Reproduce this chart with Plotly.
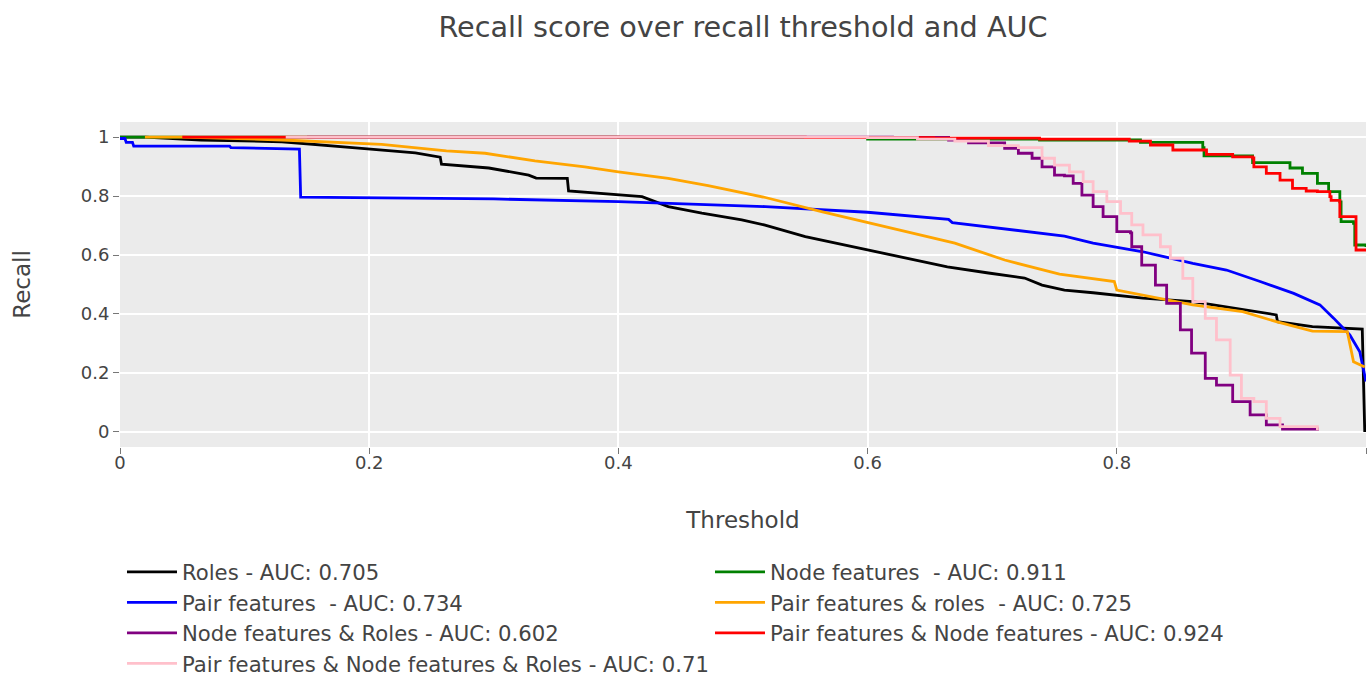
import plotly.graph_objects as go

# ---------------- data ----------------
roles_x = [0, 0.02, 0.065, 0.13, 0.189, 0.237, 0.257, 0.258, 0.296, 0.328, 0.334, 0.359, 0.360,
           0.419, 0.440, 0.467, 0.499, 0.517, 0.550, 0.600, 0.630, 0.664, 0.697, 0.726, 0.740,
           0.758, 0.781, 0.821, 0.861, 0.901, 0.928, 0.929, 0.957, 0.997, 0.999]
roles_y = [1.0, 1.0, 0.99, 0.984, 0.963, 0.946, 0.932, 0.908, 0.895, 0.871, 0.861, 0.860, 0.817,
           0.798, 0.764, 0.742, 0.719, 0.702, 0.662, 0.617, 0.590, 0.560, 0.539, 0.522, 0.498,
           0.481, 0.472, 0.454, 0.442, 0.414, 0.397, 0.374, 0.357, 0.349, 0.0]

node_x = [0, 0.40, 0.60, 0.738, 0.819, 0.869, 0.870, 0.909, 0.939, 0.949, 0.961, 0.970, 0.979,
          0.980, 0.990, 0.991, 1.0]
node_y = [1.0, 0.998, 0.993, 0.99, 0.982, 0.964, 0.936, 0.913, 0.895, 0.877, 0.843, 0.815, 0.78,
          0.713, 0.707, 0.634, 0.627]

pair_x = [0, 0.004, 0.005, 0.01, 0.011, 0.088, 0.089, 0.144, 0.145, 0.30, 0.40, 0.518, 0.60,
          0.665, 0.668, 0.758, 0.781, 0.821, 0.861, 0.888, 0.915, 0.942, 0.963, 0.974, 0.987,
          0.995, 1.0]
pair_y = [0.995, 0.995, 0.982, 0.982, 0.969, 0.969, 0.964, 0.959, 0.796, 0.79, 0.781, 0.764,
          0.745, 0.721, 0.710, 0.664, 0.640, 0.611, 0.572, 0.549, 0.510, 0.470, 0.431, 0.386,
          0.329, 0.272, 0.171]

pair_roles_x = [0.02, 0.05, 0.13, 0.21, 0.262, 0.293, 0.333, 0.373, 0.40, 0.44, 0.472, 0.494,
                0.518, 0.563, 0.60, 0.644, 0.670, 0.710, 0.754, 0.798, 0.80, 0.861, 0.901,
                0.928, 0.957, 0.985, 0.990, 0.999]
pair_roles_y = [1.0, 1.0, 0.99, 0.975, 0.953, 0.945, 0.919, 0.899, 0.882, 0.860, 0.835, 0.815,
                0.795, 0.747, 0.71, 0.668, 0.640, 0.583, 0.535, 0.510, 0.481, 0.431, 0.408,
                0.374, 0.342, 0.340, 0.238, 0.22]

node_roles_x = [0.15, 0.62, 0.665, 0.681, 0.710, 0.721, 0.732, 0.740, 0.750, 0.758, 0.765, 0.772,
                0.781, 0.789, 0.800, 0.811, 0.812, 0.820, 0.831, 0.840, 0.850, 0.851, 0.860,
                0.871, 0.880, 0.893, 0.907, 0.920, 0.933, 0.961]
node_roles_y = [1.0, 0.999, 0.99, 0.98, 0.962, 0.945, 0.928, 0.899, 0.871, 0.868, 0.843, 0.803,
                0.764, 0.730, 0.679, 0.675, 0.628, 0.566, 0.498, 0.436, 0.436, 0.346, 0.267,
                0.182, 0.159, 0.103, 0.058, 0.024, 0.010, 0.004]

pair_node_x = [0.05, 0.55, 0.653, 0.738, 0.81, 0.827, 0.845, 0.872, 0.893, 0.909, 0.910, 0.920,
               0.931, 0.941, 0.952, 0.961, 0.971, 0.972, 0.978, 0.979, 0.991, 0.992, 1.0]
pair_node_y = [1.0, 0.998, 0.996, 0.993, 0.986, 0.973, 0.956, 0.941, 0.933, 0.929, 0.899, 0.877,
               0.854, 0.826, 0.817, 0.815, 0.798, 0.785, 0.785, 0.730, 0.730, 0.617, 0.617]

all_x = [0.133, 0.60, 0.64, 0.670, 0.697, 0.721, 0.740, 0.750, 0.762, 0.773, 0.781, 0.792, 0.803,
         0.812, 0.821, 0.835, 0.843, 0.853, 0.861, 0.871, 0.880, 0.891, 0.900, 0.910, 0.920,
         0.931, 0.961]
all_y = [1.0, 0.998, 0.993, 0.986, 0.971, 0.964, 0.928, 0.905, 0.882, 0.849, 0.815, 0.781, 0.741,
         0.702, 0.668, 0.628, 0.589, 0.521, 0.442, 0.385, 0.312, 0.193, 0.114, 0.103, 0.046,
         0.018, 0.005]

series = [
    ("Roles - AUC: 0.705", roles_x, roles_y, "black", "linear"),
    ("Node features  - AUC: 0.911", node_x, node_y, "green", "hv"),
    ("Pair features  - AUC: 0.734", pair_x, pair_y, "blue", "linear"),
    ("Pair features & roles  - AUC: 0.725", pair_roles_x, pair_roles_y, "orange", "linear"),
    ("Node features & Roles - AUC: 0.602", node_roles_x, node_roles_y, "purple", "hv"),
    ("Pair features & Node features - AUC: 0.924", pair_node_x, pair_node_y, "red", "hv"),
    ("Pair features & Node features & Roles - AUC: 0.71", all_x, all_y, "pink", "hv"),
]

x_ticks = [0, 0.2, 0.4, 0.6, 0.8, 1]
y_ticks = [0, 0.2, 0.4, 0.6, 0.8, 1]

fig = go.Figure()
for name, xs, ys, col, shp in series:
    fig.add_trace(go.Scatter(x=xs, y=ys, mode="lines", name=name,
                             line=dict(color=col, width=2.8, shape=shp)))

txt = "#444"
fam = "DejaVu Sans, Verdana, sans-serif"
W, H = 1369, 677
fig.update_layout(
    width=W, height=H, autosize=False,
    font=dict(family=fam, size=18, color=txt),
    title=dict(text="Recall score over recall threshold and AUC", x=743 / W, xanchor="center",
               y=1 - 27 / H, yanchor="middle", font=dict(family=fam, size=28.7, color=txt)),
    paper_bgcolor="white", plot_bgcolor="#EBEBEB",
    margin=dict(l=120, r=3, t=122, b=230),
    xaxis=dict(range=[0, 1], tickvals=x_ticks, ticktext=[str(v) for v in x_ticks],
               showgrid=True, gridcolor="white", gridwidth=2, zeroline=False,
               ticks="outside", ticklen=6, tickcolor="#777", tickfont=dict(size=18, color=txt),
               ticklabelstandoff=-7,
               title=dict(text="Threshold", font=dict(size=23, color=txt), standoff=40),
               automargin=False),
    yaxis=dict(range=[-0.051, 1.051], tickvals=y_ticks, ticktext=[str(v) for v in y_ticks],
               showgrid=True, gridcolor="white", gridwidth=2, zeroline=False,
               ticks="outside", ticklen=6, tickcolor="#777", tickfont=dict(size=18, color=txt),
               title=dict(text="Recall", font=dict(size=23, color=txt), standoff=43),
               automargin=False),
    legend=dict(orientation="h", x=0.0016, xanchor="left", xref="paper",
                y=1 - 551.5 / H, yanchor="top", yref="container",
                font=dict(family=fam, size=21.2, color=txt), itemwidth=50,
                entrywidth=523, entrywidthmode="pixels",
                bgcolor="rgba(0,0,0,0)"),
)

fig.write_html("out.html", config={"displayModeBar": False},
               post_script="document.body.style.margin='0';")
